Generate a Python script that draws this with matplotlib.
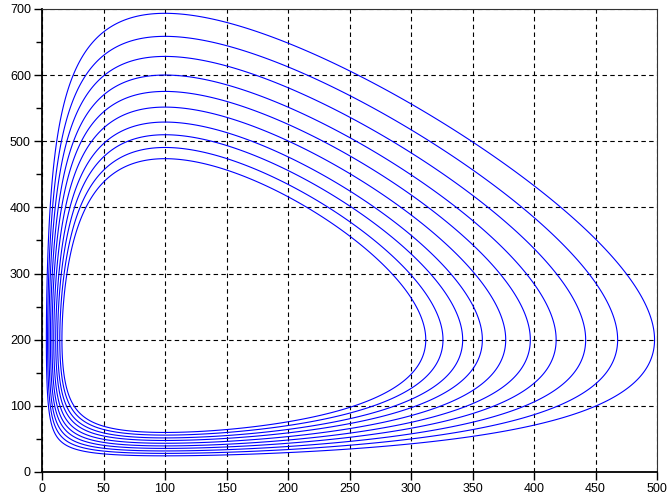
import numpy as np
import matplotlib
matplotlib.use("Agg")
import matplotlib.pyplot as plt
from matplotlib.ticker import MultipleLocator

# predator-prey phase portrait (Lotka-Volterra)
# equilibrium point
x_eq = 100.0
y_eq = 200.0
# weight of the predator term in the conserved quantity
k_y = 0.97

# where each orbit crosses y = 200 on the right side (inner to outer)
x_right = [312, 326, 342, 358, 377, 397, 418, 442, 468, 498]


def invariant(x, y):
    # conserved quantity of the Lotka-Volterra system
    u = x / x_eq
    v = y / y_eq
    return x_eq * (u - np.log(u) - 1) + k_y * y_eq * (v - np.log(v) - 1)


levels = sorted(invariant(np.array(x_right, dtype=float), y_eq))

xs = np.geomspace(0.5, 560, 2500)
ys = np.geomspace(5, 760, 2500)
X, Y = np.meshgrid(xs, ys)
Z = invariant(X, Y)

plt.rcParams["font.family"] = ["Liberation Sans", "DejaVu Sans"]

fig = plt.figure(figsize=(6.70, 4.96), dpi=100)
ax = fig.add_axes([42 / 670, 1 - 472 / 496, 615 / 670, 463 / 496])

ax.contour(X, Y, Z, levels=levels, colors="#0000ff", linewidths=0.8)

ax.set_xlim(0, 500)
ax.set_ylim(0, 700)
ax.xaxis.set_major_locator(MultipleLocator(50))
ax.yaxis.set_major_locator(MultipleLocator(100))
ax.yaxis.set_minor_locator(MultipleLocator(50))

ax.grid(True, which="major", color="black", linestyle=(0, (4, 3)), linewidth=0.8)
ax.set_axisbelow(True)

for side in ["left", "bottom"]:
    ax.spines[side].set_linewidth(1.3)
for side in ["top", "right"]:
    ax.spines[side].set_linewidth(0.8)
    ax.spines[side].set_color("#333333")

ax.tick_params(which="major", direction="out", length=6, width=1, labelsize=9, pad=2)
ax.tick_params(which="minor", direction="out", length=4, width=1)
ax.tick_params(top=False, right=False)

plt.savefig("out.png", dpi=100)
